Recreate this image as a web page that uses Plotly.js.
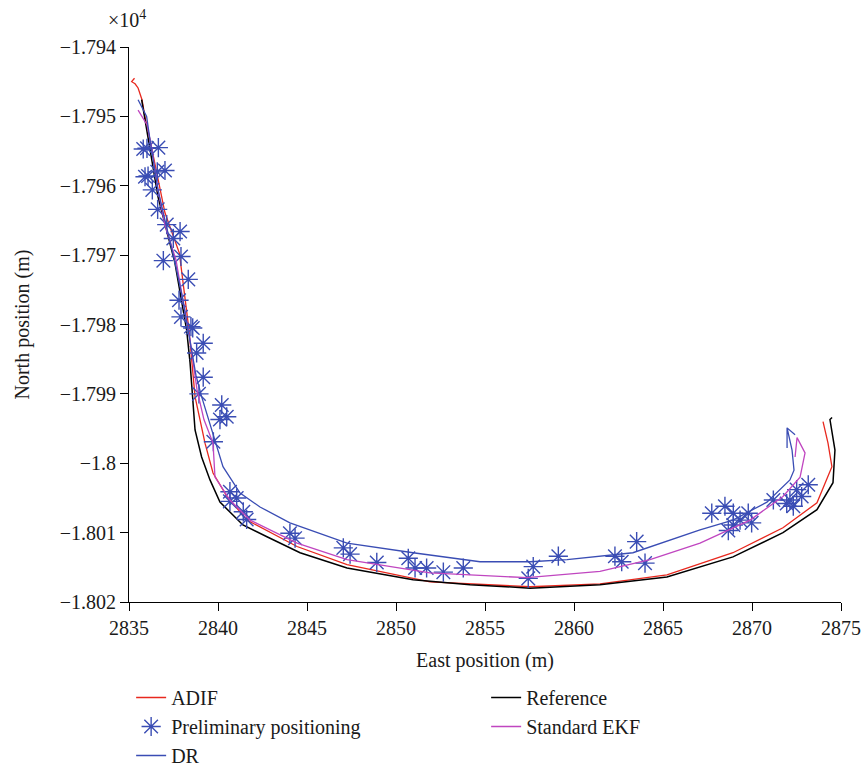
<!DOCTYPE html>
<html>
<head>
<meta charset="utf-8">
<script src="https://cdn.plot.ly/plotly-3.0.1.min.js"></script>
<style>html,body{margin:0;padding:0;background:#fff;}</style>
</head>
<body>
<div id="chart" style="width:863px;height:770px;"></div>
<script>
// Reference trajectory
const refE = [2835.71,2835.99,2836.63,2837.58,2838.24,2838.43,2838.71,2839.08,2839.55,2840.11,2841.40,2842.75,2844.61,2847.25,2850.96,2854.16,2857.53,2861.46,2865.22,2868.93,2871.74,2873.65,2874.55,2874.66,2874.38,2874.50];
const refN = [-17947.6,-17952.0,-17961.6,-17971.1,-17980.8,-17985.5,-17995.2,-17999.1,-18002.4,-18005.6,-18008.9,-18010.6,-18012.9,-18015.1,-18016.8,-18017.5,-18018.0,-18017.5,-18016.4,-18013.5,-18010.0,-18006.7,-18002.8,-17998.1,-17993.7,-17993.4];
// ADIF
const adifE = [2835.31,2835.15,2835.34,2835.51,2835.73,2835.90,2836.18,2837.02,2837.83,2838.03,2838.37,2838.71,2839.27,2839.72,2840.51,2841.63,2844.44,2847.25,2851.91,2857.53,2861.46,2865.22,2868.93,2871.74,2873.65,2874.49,2874.27,2873.99];
const adifN = [-17944.5,-17945.0,-17945.3,-17945.9,-17947.6,-17950.1,-17953.4,-17963.9,-17969.7,-17973.6,-17980.8,-17990.4,-17997.1,-18001.4,-18004.8,-18008.2,-18012.0,-18014.6,-18017.1,-18017.8,-18017.4,-18016.1,-18012.9,-18009.3,-18005.7,-18000.5,-17997.1,-17994.0];
// Standard EKF
const ekfE = [2835.51,2836.01,2836.29,2836.63,2837.02,2837.64,2838.03,2838.43,2838.82,2839.21,2839.72,2839.83,2840.67,2841.80,2844.44,2847.25,2851.91,2854.72,2857.36,2861.46,2864.27,2867.08,2869.89,2871.74,2872.70,2872.98,2872.53,2872.42];
const ekfN = [-17949.1,-17951.2,-17954.8,-17960.6,-17965.6,-17970.7,-17976.5,-17982.2,-17989.4,-17993.7,-17997.1,-18002.0,-18005.3,-18008.2,-18011.5,-18013.9,-18015.8,-18016.2,-18016.5,-18015.6,-18013.9,-18011.5,-18008.2,-18004.8,-18002.0,-17998.5,-17996.3,-17999.1];
// DR
const drE = [2835.51,2835.99,2836.18,2836.63,2837.08,2837.58,2838.03,2838.43,2838.76,2839.08,2839.93,2840.28,2841.24,2842.36,2844.04,2847.25,2850.96,2854.72,2857.53,2859.61,2863.31,2867.08,2868.93,2870.84,2872.13,2872.36,2872.25,2871.97,2871.97,2871.97,2872.42];
const drN = [-17947.6,-17950.0,-17953.4,-17960.6,-17965.6,-17971.0,-17976.5,-17982.2,-17987.3,-17990.4,-17997.6,-18000.5,-18004.3,-18006.3,-18008.6,-18011.5,-18012.9,-18014.2,-18014.2,-18013.9,-18012.9,-18009.6,-18008.2,-18005.6,-18002.4,-18001.0,-17998.1,-17994.9,-17997.8,-17994.9,-17995.9];
// Preliminary positioning
const preE = [2835.80,2836.01,2836.65,2835.90,2836.07,2836.59,2837.02,2836.31,2836.61,2837.12,2837.49,2837.87,2837.92,2836.93,2838.33,2837.81,2837.92,2838.48,2838.58,2839.17,2838.80,2839.17,2838.93,2840.21,2840.11,2840.49,2839.74,2840.67,2841.05,2840.67,2841.42,2841.61,2844.04,2844.33,2847.04,2847.42,2848.92,2850.69,2851.07,2851.72,2852.66,2853.78,2857.43,2857.71,2859.12,2862.30,2862.68,2863.52,2863.99,2867.74,2868.48,2868.95,2868.95,2868.67,2869.33,2869.79,2869.98,2871.20,2871.95,2872.13,2872.32,2872.51,2872.79,2873.16];
const preN = [-17954.7,-17954.6,-17954.5,-17958.7,-17958.6,-17958.0,-17957.8,-17960.6,-17963.4,-17965.6,-17967.6,-17966.6,-17970.2,-17970.8,-17973.5,-17976.5,-17978.9,-17980.3,-17980.5,-17982.7,-17984.1,-17987.6,-17990.0,-17991.6,-17993.7,-17993.3,-17996.9,-18004.1,-18005.0,-18005.5,-18007.0,-18008.1,-18010.1,-18010.8,-18012.2,-18013.1,-18014.3,-18013.7,-18015.1,-18015.1,-18015.7,-18015.1,-18016.6,-18014.9,-18013.4,-18013.4,-18014.2,-18011.3,-18014.4,-18007.2,-18006.2,-18007.2,-18008.9,-18009.7,-18008.2,-18007.2,-18008.6,-18005.3,-18005.8,-18005.3,-18006.2,-18003.8,-18004.8,-18003.1];

const xTicks = [2835,2840,2845,2850,2855,2860,2865,2870,2875];
const yTicks = [-17940,-17950,-17960,-17970,-17980,-17990,-18000,-18010,-18020];
const yTickText = ['\u22121.794','\u22121.795','\u22121.796','\u22121.797','\u22121.798','\u22121.799','\u22121.8','\u22121.801','\u22121.802'];

const FONT = 'Liberation Serif, Times New Roman, serif';
const BLUE = '#3a4db4';
const TXT = '#1a1a1a';

const traces = [
  {x: adifE, y: adifN, name: 'ADIF', mode: 'lines', line: {color: '#e8281e', width: 1.3}},
  {x: refE, y: refN, name: 'Reference', mode: 'lines', line: {color: '#000000', width: 1.5}},
  {x: preE, y: preN, name: 'Preliminary positioning', mode: 'markers',
   marker: {symbol: 'asterisk-open', size: 16, color: BLUE, line: {color: BLUE, width: 1.4}}},
  {x: ekfE, y: ekfN, name: 'Standard EKF', mode: 'lines', line: {color: '#c046c0', width: 1.3}},
  {x: drE, y: drN, name: 'DR', mode: 'lines', line: {color: BLUE, width: 1.3}}
];

const layout = {
  width: 863, height: 770,
  margin: {l: 129, r: 22, t: 47, b: 168},
  paper_bgcolor: '#fff', plot_bgcolor: '#fff',
  font: {family: FONT, size: 20, color: TXT},
  showlegend: true,
  xaxis: {
    range: [2835, 2875], tickvals: xTicks, ticktext: xTicks.map(String),
    showgrid: false, zeroline: false, showline: true, linecolor: '#000', linewidth: 1,
    ticks: 'outside', ticklen: 8, tickcolor: '#000',
    tickfont: {family: FONT, size: 20, color: TXT},
    title: {text: 'East position (m)', font: {family: FONT, size: 20, color: TXT}, standoff: 14}
  },
  yaxis: {
    range: [-18020, -17940], tickvals: yTicks, ticktext: yTickText,
    showgrid: false, zeroline: false, showline: true, linecolor: '#000', linewidth: 1,
    ticks: 'outside', ticklen: 8, tickcolor: '#000',
    tickfont: {family: FONT, size: 20, color: TXT},
    title: {text: 'North position (m)', font: {family: FONT, size: 20, color: TXT}, standoff: 24}
  },
  legend: {
    orientation: 'h', xref: 'paper', yref: 'container',
    x: 0.003, xanchor: 'left', y: 0.1195, yanchor: 'top',
    entrywidth: 310, entrywidthmode: 'pixels', tracegroupgap: 0,
    font: {family: FONT, size: 20, color: TXT}, bgcolor: 'rgba(0,0,0,0)'
  },
  annotations: [{
    xref: 'paper', yref: 'paper', x: -0.033, y: 1.05, xanchor: 'left', yanchor: 'middle',
    text: '\u00d710<sup>4</sup>', showarrow: false, font: {family: FONT, size: 20, color: TXT}
  }]
};

Plotly.newPlot('chart', traces, layout, {displayModeBar: false, staticPlot: true});
</script>
</body>
</html>
